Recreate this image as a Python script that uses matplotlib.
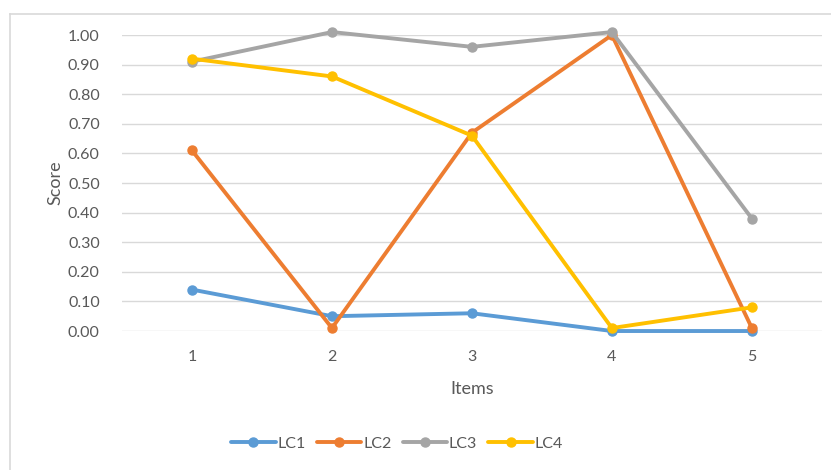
import matplotlib.pyplot as plt
from matplotlib.lines import Line2D

plt.rcParams['font.family'] = ['Lato', 'DejaVu Sans']

items = [1, 2, 3, 4, 5]
lc1 = [0.14, 0.05, 0.06, 0.00, 0.00]
lc2 = [0.61, 0.01, 0.67, 1.00, 0.01]
lc3 = [0.91, 1.01, 0.96, 1.01, 0.38]
lc4 = [0.92, 0.86, 0.66, 0.01, 0.08]
series = [('LC1', lc1, '#5B9BD5'), ('LC2', lc2, '#ED7D31'),
          ('LC3', lc3, '#A5A5A5'), ('LC4', lc4, '#FFC000')]
yticks = [i / 10 for i in range(11)]

fig = plt.figure(figsize=(8.31, 4.70), dpi=100)
ax = fig.add_axes([0.1468, 0.2957, 0.8422, 0.6298])

# chart frame (cut off on right and bottom)
fig.add_artist(Line2D([10 / 831, 1], [1 - 14 / 470] * 2, color='#d9d9d9', lw=1.2))
fig.add_artist(Line2D([10 / 831] * 2, [0, 1 - 14 / 470], color='#d9d9d9', lw=1.2))

for name, vals, col in series:
    ax.plot(items, vals, color=col, lw=2.8, marker='o', markersize=6.5,
            label=name, clip_on=False, solid_capstyle='round', zorder=3)

ax.set_xlim(0.5, 5.5)
ax.set_ylim(0, 1.0)
ax.set_xticks(items)
ax.set_yticks(yticks)
ax.set_yticklabels([f'{t:.2f}' for t in yticks])
ax.grid(axis='y', color='#d9d9d9', lw=1)
ax.set_axisbelow(True)
for s in ax.spines.values():
    s.set_visible(False)
ax.tick_params(length=0, labelsize=11.5, colors='#595959', pad=16)
ax.tick_params(axis='x', pad=14)
ax.set_xlabel('Items', fontsize=13, color='#595959', labelpad=12)
ax.set_ylabel('Score', fontsize=13, color='#595959', labelpad=3)

ax.legend(loc='center', bbox_to_anchor=(0.393, -0.38), ncol=4, frameon=False,
          fontsize=11.5, labelcolor='#595959', handlelength=2.8, columnspacing=0.7,
          handletextpad=0.1)

fig.savefig('out.png', dpi=100)
